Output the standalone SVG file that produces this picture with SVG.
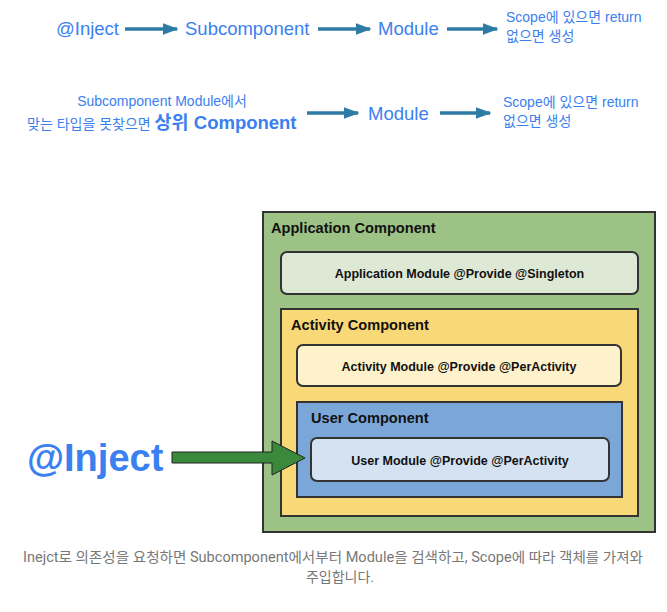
<svg xmlns="http://www.w3.org/2000/svg" width="667" height="612" viewBox="0 0 667 612">
<style>
.blue{font-family:"Liberation Sans","Noto Sans CJK KR",sans-serif;fill:#3b80f0}
.t17{font-size:18.5px}
.t13{font-size:14px}
.box{stroke:#333;stroke-width:2}
.hdr{font-family:"Liberation Sans",sans-serif;font-weight:bold;font-size:14.6px;fill:#111}
.mod{font-family:"Liberation Sans",sans-serif;font-weight:bold;font-size:12.5px;fill:#111}
.cap{font-family:"Roboto","Noto Sans CJK KR",sans-serif;font-size:14px;fill:#777}
.ar{stroke:#2e7ba6;stroke-width:3.5;fill:none}
</style>
<defs>
<marker id="ah2" viewBox="0 0 10 10" refX="9" refY="5" markerWidth="16" markerHeight="12" markerUnits="userSpaceOnUse" orient="auto" preserveAspectRatio="none">
<path d="M0,0 L10,5 L0,10 Z" fill="#2e7ba6"/>
</marker>
</defs>
<g id="connectors">
<line class="ar" x1="125" y1="29" x2="177" y2="29" marker-end="url(#ah2)"/>
<line class="ar" x1="318" y1="29" x2="370" y2="29" marker-end="url(#ah2)"/>
<line class="ar" x1="447" y1="29" x2="497" y2="29" marker-end="url(#ah2)"/>
<line class="ar" x1="307" y1="113" x2="358" y2="113" marker-end="url(#ah2)"/>
<line class="ar" x1="440" y1="113" x2="490" y2="113" marker-end="url(#ah2)"/>
</g>
<g id="row1">
<text class="blue t17" x="56" y="35">@Inject</text>
<text class="blue t17" x="185" y="35">Subcomponent</text>
<text class="blue t17" x="378" y="35">Module</text>
<text class="blue t13" x="506" y="22">Scope에 있으면 return</text>
<text class="blue t13" x="506" y="41">없으면 생성</text>
</g>
<g id="row2">
<text class="blue t13" x="162" y="106" text-anchor="middle">Subcomponent Module에서</text>
<text class="blue t13" x="27" y="129">맞는 타입을 못찾으면 <tspan font-size="18.5" font-weight="bold">상위 Component</tspan></text>
<text class="blue t17" x="368" y="120">Module</text>
<text class="blue t13" x="503" y="107">Scope에 있으면 return</text>
<text class="blue t13" x="503" y="126">없으면 생성</text>
</g>
<g id="application-component">
<rect class="box" x="263" y="212" width="392" height="320" fill="#9dc285"/>
<text class="hdr" x="271" y="233">Application Component</text>
</g>
<g id="application-module">
<rect class="box" x="281" y="252" width="357" height="42" rx="6" fill="#dde8d5"/>
<text class="mod" x="459.5" y="277.5" text-anchor="middle">Application Module @Provide @Singleton</text>
</g>
<g id="activity-component">
<rect class="box" x="281" y="309" width="357" height="207" fill="#f9d877"/>
<text class="hdr" x="291" y="330">Activity Component</text>
</g>
<g id="activity-module">
<rect class="box" x="297" y="345" width="324" height="41" rx="6" fill="#fdf2cc"/>
<text class="mod" x="459" y="370.5" text-anchor="middle">Activity Module @Provide @PerActivity</text>
</g>
<g id="user-component">
<rect class="box" x="297" y="402" width="325" height="95" fill="#7ba7d8"/>
<text class="hdr" x="311" y="423">User Component</text>
</g>
<g id="user-module">
<rect class="box" x="311" y="438" width="298" height="43" rx="6" fill="#d5e2f1"/>
<text class="mod" x="460" y="464.5" text-anchor="middle">User Module @Provide @PerActivity</text>
</g>
<g id="inject">
<text x="27" y="471" font-family="Liberation Sans,sans-serif" font-weight="bold" font-size="38" fill="#3b80f0">@Inject</text>
<path d="M172,452 L272,452 L272,441 L305,458 L272,475 L272,463 L172,463 Z" fill="#3b8a3b" stroke="#222" stroke-width="1"/>
</g>
<g id="caption">
<text class="cap" x="23" y="562" textLength="620" lengthAdjust="spacingAndGlyphs">Inejct로 의존성을 요청하면 Subcomponent에서부터 Module을 검색하고, Scope에 따라 객체를 가져와</text>
<text class="cap" x="340" y="582" text-anchor="middle">주입합니다.</text>
</g>
</svg>
